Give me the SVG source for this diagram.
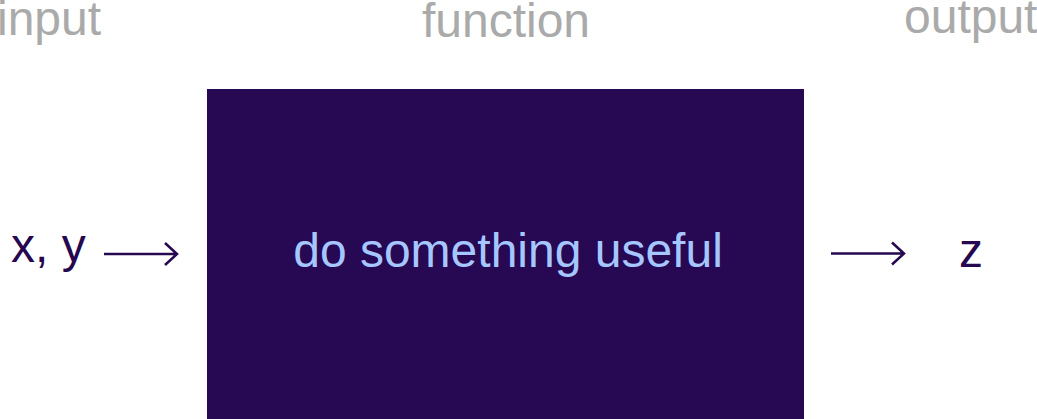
<svg xmlns="http://www.w3.org/2000/svg" width="1037" height="419" viewBox="0 0 1037 419">
<style>
.lbl{font-family:"Liberation Sans",Arial,sans-serif;font-size:48px;fill:#aaaaaa}
.dark{font-family:"Liberation Sans",Arial,sans-serif;font-size:48px;fill:#260850}
.inner{font-family:"Liberation Sans",Arial,sans-serif;font-size:48px;fill:#a6c6ff}
.conn{stroke:#260850;stroke-width:2.5;fill:none}
</style>
<rect width="1037" height="419" fill="#ffffff"/>
<g id="headers">
<text class="lbl" x="-3" y="35">input</text>
<text class="lbl" x="506" y="37" text-anchor="middle">function</text>
<text class="lbl" x="904" y="33">output</text>
</g>
<g id="node-function">
<rect x="207" y="89" width="597" height="332" fill="#260853"/>
<text class="inner" x="508" y="267" text-anchor="middle">do something useful</text>
</g>
<g id="node-input">
<text class="dark" x="11" y="262">x, y</text>
</g>
<g id="node-output">
<text class="dark" x="959" y="267">z</text>
</g>
<g id="connectors">
<path class="conn" d="M104 254H177M165 243L177 254L165 265"/>
<path class="conn" d="M831 253.5H904M892 242.5L904 253.5L892 264.5"/>
</g>
</svg>
